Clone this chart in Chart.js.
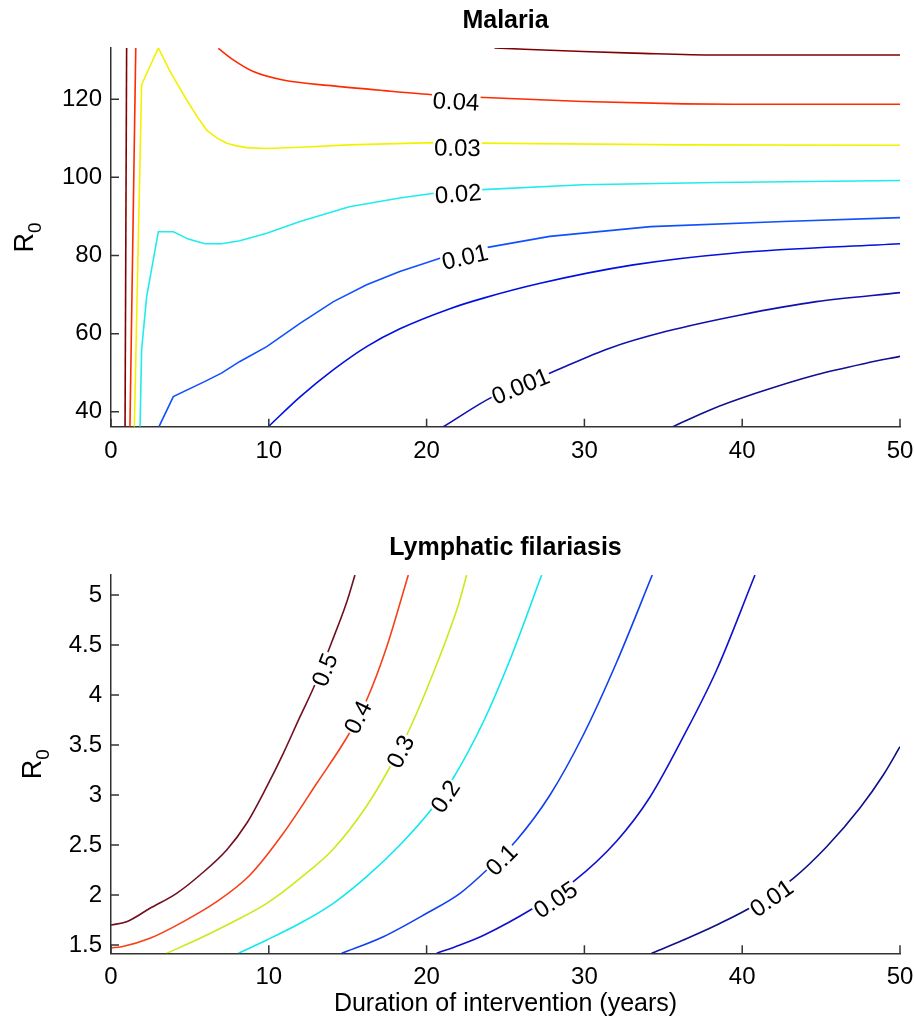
<!DOCTYPE html>
<html><head><meta charset="utf-8">
<script src="https://cdn.jsdelivr.net/npm/chart.js@4.4.1/dist/chart.umd.min.js"></script>
<style>
html,body{margin:0;padding:0;background:#fff;width:914px;height:1022px;overflow:hidden}
canvas{position:absolute;left:0}
#c1{top:0}
#c2{top:500px}
</style></head><body>
<canvas id="c1" width="914" height="470"></canvas>
<canvas id="c2" width="914" height="522"></canvas>
<script>
// ---------- shared axis data ----------
const xTicks = [0, 10, 20, 30, 40, 50];
const xTitle = 'Duration of intervention (years)';

// ---------- Malaria ----------
const malariaTitle = 'Malaria';
const malariaYTicks = [40, 60, 80, 100, 120];
const malariaYMin = 36.2, malariaYMax = 133.1;

const malariaX_005a = [0.89, 0.99];
const malariaY_005a = [36.2, 133.1];
const malariaX_005b = [24.3, 29.9, 33.1, 38.4, 50];
const malariaY_005b = [133.1, 132.2, 131.8, 131.3, 131.3];
const malariaX_004a = [1.20, 1.57];
const malariaY_004a = [36.2, 133.1];
const malariaX_004b = [6.8, 7.75, 9.02, 10.9, 14.1, 17.3, 20.6, 23.3, 29.9, 36.3, 39.4, 50];
const malariaY_004b = [133.0, 130.05, 127.06, 124.9, 123.4, 122.2, 121.1, 120.5, 119.4, 118.8, 118.7, 118.7];
const malariaX_003 = [1.48, 1.94, 3.0, 3.74, 4.8, 5.43, 6.06, 6.70, 7.33, 7.97, 8.6, 9.87, 11.98, 15.1, 20.4, 23.4, 36.3, 50];
const malariaY_003 = [36.2, 123.7, 133.1, 127.1, 119.8, 115.73, 112.1, 110.1, 108.75, 108.06, 107.6, 107.4, 107.7, 108.3, 108.9, 108.75, 108.3, 108.2];
const malariaX_002 = [1.84, 1.94, 2.26, 3.0, 3.95, 4.9, 5.96, 7.0, 8.17, 9.87, 11.98, 15.1, 18.3, 20.6, 23.2, 29.9, 38.4, 50];
const malariaY_002 = [36.2, 55.9, 69.5, 86.1, 86.1, 84.2, 83.0, 83.0, 83.8, 85.7, 88.7, 92.5, 94.7, 96.0, 96.8, 98.1, 98.7, 99.2];
const malariaX_001 = [3.04, 3.95, 5.96, 7.0, 8.17, 9.87, 12.0, 14.1, 16.2, 18.3, 20.85, 23.6, 27.8, 34.2, 42.6, 50];
const malariaY_001 = [36.2, 43.9, 47.8, 49.9, 52.9, 56.7, 62.7, 68.2, 72.5, 75.9, 79.3, 81.9, 84.9, 87.4, 88.7, 89.7];
const malariaX_0005 = [9.97, 12.0, 14.1, 16.2, 18.31, 21.48, 23.6, 27.2, 33.1, 39.4, 50];
const malariaY_0005 = [36.2, 43.9, 50.8, 56.7, 61.25, 66.4, 69.1, 72.9, 77.6, 80.6, 83.0];
const malariaX_0001 = [21.06, 24.2, 27.8, 31.6, 35.2, 39.9, 44.7, 50];
const malariaY_0001 = [36.2, 43.9, 49.9, 56.3, 60.6, 64.8, 68.2, 70.5];
const malariaX_00001 = [35.6, 37.96, 40.9, 44.7, 47.9, 50];
const malariaY_00001 = [36.2, 40.5, 44.8, 49.5, 52.5, 54.2];

const malariaLabelText = ['0.04', '0.03', '0.02', '0.01', '0.001'];
const malariaLabelX = [21.86, 21.95, 22.0, 22.43, 25.96];
const malariaLabelY = [119.3, 107.47, 95.73, 79.54, 46.5];

// ---------- Lymphatic filariasis ----------
const lfTitle = 'Lymphatic filariasis';
const lfYTicks = [1.5, 2, 2.5, 3, 3.5, 4, 4.5, 5];
const lfYTickLabels = ['1.5', '2', '2.5', '3', '3.5', '4', '4.5', '5'];
const lfYMin = 1.417, lfYMax = 5.2;

const lfX_05 = [0, 0.99, 2.47, 4.16, 5.64, 7.33, 8.60, 9.87, 10.92, 11.98, 12.82, 13.99, 14.94, 15.46];
const lfY_05 = [1.70, 1.733, 1.867, 2.017, 2.20, 2.45, 2.717, 3.083, 3.417, 3.783, 4.067, 4.53, 4.93, 5.2];
const lfX_04 = [0, 0.68, 2.47, 4.58, 6.70, 8.81, 10.92, 13.04, 15.04, 16.20, 17.47, 18.84];
const lfY_04 = [1.473, 1.483, 1.567, 1.733, 1.933, 2.20, 2.617, 3.117, 3.60, 3.95, 4.48, 5.2];
const lfX_03 = [3.53, 5.64, 7.75, 9.87, 11.98, 14.09, 16.2, 17.68, 18.95, 20.42, 22.01, 22.54];
const lfY_03 = [1.417, 1.567, 1.733, 1.917, 2.167, 2.46, 2.89, 3.28, 3.67, 4.22, 4.90, 5.2];
const lfX_02 = [8.07, 9.87, 11.98, 14.09, 16.2, 18.31, 20.32, 21.69, 23.59, 25.28, 27.29];
const lfY_02 = [1.417, 1.55, 1.717, 1.917, 2.183, 2.50, 2.86, 3.17, 3.730, 4.350, 5.2];
const lfX_01 = [14.62, 17.26, 20.0, 22.12, 23.81, 25.71, 27.82, 29.93, 32.05, 34.3];
const lfY_01 = [1.417, 1.583, 1.817, 2.017, 2.25, 2.55, 3.0, 3.60, 4.33, 5.2];
const lfX_005 = [20.64, 22.12, 23.59, 26.76, 29.30, 32.05, 34.16, 36.27, 38.38, 40.81];
const lfY_005 = [1.417, 1.50, 1.595, 1.867, 2.133, 2.54, 2.98, 3.583, 4.25, 5.2];
const lfX_001 = [34.26, 36.27, 38.38, 40.81, 43.24, 45.35, 47.46, 48.94, 50];
const lfY_001 = [1.417, 1.55, 1.70, 1.90, 2.167, 2.483, 2.87, 3.20, 3.483];

const lfLabelText = ['0.5', '0.4', '0.3', '0.2', '0.1', '0.05', '0.01'];
const lfLabelX = [13.56, 15.67, 18.36, 21.2, 24.76, 28.18, 41.87];
const lfLabelY = [4.25, 3.777, 3.433, 2.983, 2.35, 1.95, 1.967];

// ---------- helpers ----------
const FONT = '"Liberation Sans", Arial, Helvetica, sans-serif';
function pts(xs, ys) { return xs.map((x, i) => ({ x: x, y: ys[i] })); }
function ds(level, xs, ys, color, smooth) {
  return {
    level: level, data: pts(xs, ys), borderColor: color, backgroundColor: color,
    borderWidth: 1.6, showLine: true, pointRadius: 0, pointHoverRadius: 0, fill: false,
    tension: 0, cubicInterpolationMode: smooth ? 'monotone' : 'default'
  };
}
function yAt(data, xv) {
  for (let i = 0; i < data.length - 1; i++) {
    const a = data[i], b = data[i + 1];
    if (a.x <= xv && b.x >= xv) {
      const t = b.x === a.x ? 0 : (xv - a.x) / (b.x - a.x);
      return a.y + t * (b.y - a.y);
    }
  }
  return null;
}

const contourLabels = {
  id: 'contourLabels',
  afterDatasetsDraw(chart, args, opts) {
    const { ctx } = chart;
    const xs = chart.scales.x, ys = chart.scales.y;
    ctx.save();
    ctx.font = '24px ' + FONT;
    ctx.textAlign = 'center';
    ctx.textBaseline = 'middle';
    opts.text.forEach((txt, i) => {
      const lx = opts.x[i], ly = opts.y[i];
      const set = chart.data.datasets.find(d => d.level === txt &&
        d.data[0].x <= lx && d.data[d.data.length - 1].x >= lx);
      let angle = 0;
      if (set) {
        const d = 0.8;
        const x1 = Math.max(set.data[0].x, lx - d), x2 = Math.min(set.data[set.data.length - 1].x, lx + d);
        const p1x = xs.getPixelForValue(x1), p1y = ys.getPixelForValue(yAt(set.data, x1));
        const p2x = xs.getPixelForValue(x2), p2y = ys.getPixelForValue(yAt(set.data, x2));
        angle = Math.atan2(p2y - p1y, p2x - p1x);
      }
      const px = xs.getPixelForValue(lx), py = ys.getPixelForValue(ly);
      const w = ctx.measureText(txt).width;
      ctx.save();
      ctx.translate(px, py);
      ctx.rotate(angle);
      ctx.fillStyle = '#ffffff';
      ctx.fillRect(-w / 2 - 1, -11, w + 2, 22);
      ctx.fillStyle = '#000000';
      ctx.fillText(txt, 0, 1);
      ctx.restore();
    });
    ctx.restore();
  }
};

const frame = {
  id: 'frame',
  afterDraw(chart, args, opts) {
    const { ctx, chartArea: a } = chart;
    const xs = chart.scales.x, ys = chart.scales.y;
    ctx.save();
    ctx.strokeStyle = '#333333';
    ctx.lineWidth = 1.5;
    ctx.beginPath();
    xs.ticks.forEach(t => { const p = xs.getPixelForValue(t.value); ctx.moveTo(p, a.bottom); ctx.lineTo(p, a.bottom - 8); });
    ys.ticks.forEach(t => { const p = ys.getPixelForValue(t.value); ctx.moveTo(a.left, p); ctx.lineTo(a.left + 8, p); });
    ctx.stroke();
    // title
    ctx.fillStyle = '#000';
    ctx.textAlign = 'center';
    ctx.textBaseline = 'middle';
    ctx.font = 'bold 25px ' + FONT;
    ctx.fillText(opts.title, (a.left + a.right) / 2, opts.titleY);
    // x title
    if (opts.xTitle) {
      ctx.font = '25px ' + FONT;
      ctx.fillText(opts.xTitle, (a.left + a.right) / 2, opts.xTitleY);
    }
    // y title R0 with subscript
    const cy = (a.top + a.bottom) / 2;
    ctx.translate(opts.yTitleX, cy);
    ctx.rotate(-Math.PI / 2);
    ctx.textAlign = 'left';
    ctx.textBaseline = 'alphabetic';
    ctx.font = '27px ' + FONT;
    const wR = ctx.measureText('R').width;
    ctx.font = '19px ' + FONT;
    const w0 = ctx.measureText('0').width;
    const start = -(wR + w0) / 2;
    ctx.font = '27px ' + FONT;
    ctx.fillText('R', start, 0);
    ctx.font = '19px ' + FONT;
    ctx.fillText('0', start + wR, 8);
    ctx.restore();
  }
};

function makeChart(canvasId, datasets, cfg) {
  return new Chart(document.getElementById(canvasId), {
    type: 'scatter',
    data: { datasets: datasets },
    options: {
      responsive: false, animation: false, devicePixelRatio: 1,
      layout: { padding: { top: cfg.top, right: 14, left: 0, bottom: 0 } },
      plugins: {
        legend: { display: false }, tooltip: { enabled: false }, title: { display: false },
        contourLabels: { text: cfg.labelText, x: cfg.labelX, y: cfg.labelY },
        frame: { title: cfg.title, titleY: cfg.titleY, xTitle: cfg.xTitle, xTitleY: cfg.xTitleY, yTitleX: cfg.yTitleX }
      },
      scales: {
        x: {
          type: 'linear', min: 0, max: 50,
          afterBuildTicks: s => { s.ticks = xTicks.map(v => ({ value: v })); },
          afterFit: s => { s.height = cfg.xHeight; s.paddingLeft = 0; s.paddingRight = 0; },
          grid: { display: false, drawTicks: false },
          border: { display: true, color: '#333333', width: 1.5 },
          ticks: { color: '#000', font: { family: FONT, size: 24 }, padding: 10, maxRotation: 0, autoSkip: false,
                   callback: v => String(v) }
        },
        y: {
          type: 'linear', min: cfg.yMin, max: cfg.yMax,
          afterBuildTicks: s => { s.ticks = cfg.yTicks.map(v => ({ value: v })); },
          afterFit: s => { s.width = 111; s.paddingTop = 0; s.paddingBottom = 0; },
          grid: { display: false, drawTicks: false },
          border: { display: true, color: '#333333', width: 1.5 },
          ticks: { color: '#000', font: { family: FONT, size: 24 }, padding: 9, autoSkip: false,
                   callback: v => { const k = cfg.yTicks.indexOf(v); return cfg.yTickLabels ? cfg.yTickLabels[k] : String(v); } }
        }
      }
    },
    plugins: [contourLabels, frame]
  });
}

makeChart('c1', [
  ds('0.05', malariaX_005a, malariaY_005a, '#800000', false),
  ds('0.05', malariaX_005b, malariaY_005b, '#800000', true),
  ds('0.04', malariaX_004a, malariaY_004a, '#ff2a00', false),
  ds('0.04', malariaX_004b, malariaY_004b, '#ff2a00', true),
  ds('0.03', malariaX_003, malariaY_003, '#f2f200', false),
  ds('0.02', malariaX_002, malariaY_002, '#20ecec', false),
  ds('0.01', malariaX_001, malariaY_001, '#1050ff', false),
  ds('0.005', malariaX_0005, malariaY_0005, '#0010e0', true),
  ds('0.001', malariaX_0001, malariaY_0001, '#1010b0', true),
  ds('0.0001', malariaX_00001, malariaY_00001, '#101090', true)
], {
  top: 48, xHeight: 470 - 426.7, yMin: malariaYMin, yMax: malariaYMax, yTicks: malariaYTicks,
  labelText: malariaLabelText, labelX: malariaLabelX, labelY: malariaLabelY,
  title: malariaTitle, titleY: 21, xTitle: null, xTitleY: 0, yTitleX: 33
});

makeChart('c2', [
  ds('0.5', lfX_05, lfY_05, '#701020', true),
  ds('0.4', lfX_04, lfY_04, '#f84018', true),
  ds('0.3', lfX_03, lfY_03, '#cfe81a', true),
  ds('0.2', lfX_02, lfY_02, '#10e8f0', true),
  ds('0.1', lfX_01, lfY_01, '#1040f0', true),
  ds('0.05', lfX_005, lfY_005, '#1010d0', true),
  ds('0.01', lfX_001, lfY_001, '#101088', true)
], {
  top: 75, xHeight: 522 - 453.3, yMin: lfYMin, yMax: lfYMax, yTicks: lfYTicks, yTickLabels: lfYTickLabels,
  labelText: lfLabelText, labelX: lfLabelX, labelY: lfLabelY,
  title: lfTitle, titleY: 48, xTitle: xTitle, xTitleY: 504, yTitleX: 41
});
</script></body></html>
